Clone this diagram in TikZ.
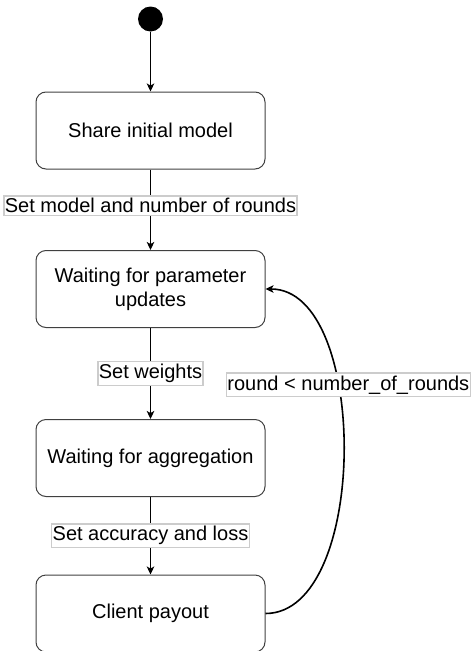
\documentclass[tikz,border=0pt]{standalone}
\usepackage{fontspec}
\setmainfont{Liberation Sans}
\usetikzlibrary{arrows.meta}

\begin{document}
\begin{tikzpicture}[x=1pt,y=-1pt,
  state/.style={draw=black!75,line width=1pt,rounded corners=10pt,minimum width=229pt,minimum height=77pt,align=center,font=\fontsize{20}{24}\selectfont},
  guard/.style={draw=black!20,fill=white,inner xsep=1pt,inner ysep=2.5pt,font=\fontsize{20}{24}\selectfont},
  flow/.style={-{Stealth[length=8pt,width=7.5pt,inset=2pt]},line width=1.6pt}]
  \useasboundingbox (0,0) rectangle (473,651);
  \node[circle,fill,minimum size=25pt,inner sep=0pt] (start) at (150.5,19) {};
  \node[state] (share)   at (150.5,130.5) {Share initial model};
  \node[state] (waitupd) at (150.5,289)   {Waiting for parameter\\updates};
  \node[state] (waitagg) at (150.5,458)   {Waiting for aggregation};
  \node[state] (payout)  at (150.5,613.5) {Client payout};
  \draw[flow] (start) -- (share);
  \draw[flow] (share) -- node[guard,pos=0.45] (g1) {Set model and number of rounds} (waitupd);
  \draw[flow] (waitupd) -- node[guard] (g2) {Set weights} (waitagg);
  \draw[flow] (waitagg) -- node[guard] (g3) {Set accuracy and loss} (payout);
  \draw[flow] (payout.east) .. controls +(104,0) and +(104,0) .. node[guard,pos=0.64,xshift=11pt] (g4) {round < number\_of\_rounds} (waitupd.east);
\end{tikzpicture}
\end{document}
